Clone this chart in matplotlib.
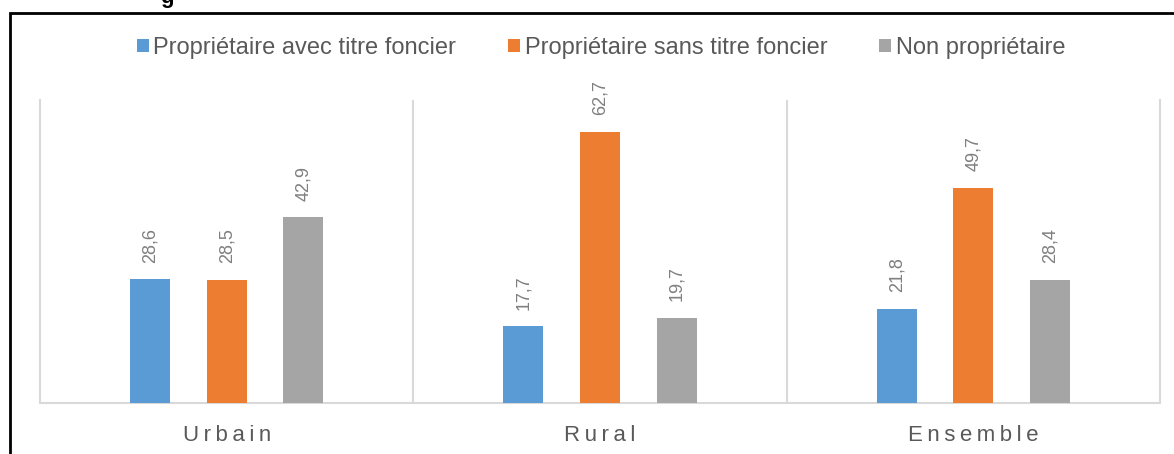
import matplotlib
matplotlib.use("Agg")
import matplotlib.pyplot as plt
import numpy as np
from matplotlib.patches import Rectangle

plt.rcParams['font.family'] = ['Liberation Sans', 'DejaVu Sans']

# data
categories = ["Urbain", "Rural", "Ensemble"]
series_names = ["Propriétaire avec titre foncier",
                "Propriétaire sans titre foncier",
                "Non propriétaire"]
avec_titre = [28.6, 17.7, 21.8]
sans_titre = [28.5, 62.7, 49.7]
non_proprio = [42.9, 19.7, 28.4]

colors = ["#5B9BD5", "#ED7D31", "#A5A5A5"]
grid_col = "#D9D9D9"

fig = plt.figure(figsize=(11.74, 4.54), dpi=100)
ax = fig.add_axes([40 / 1174, 1 - 403 / 454, 1120 / 1174, 303 / 454])

x = np.arange(len(categories))
offset = 0.205
width = 0.107
series = [avec_titre, sans_titre, non_proprio]
for k, (vals, name, col) in enumerate(zip(series, series_names, colors)):
    pos = x + (k - 1) * offset
    ax.bar(pos, vals, width=width, color=col, label=name, zorder=3)
    for px, v in zip(pos, vals):
        ax.annotate(f"{v:.1f}".replace(".", ","), (px, v),
                    xytext=(0, 12), textcoords="offset points",
                    rotation=90, ha="center", va="bottom",
                    fontsize=13, color="#7F7F7F")

ax.set_xlim(-0.5, 2.5)
ax.set_ylim(0, 70)
for xs in [0.5, 1.5]:
    ax.axvline(xs, color=grid_col, lw=1.5, zorder=1)
for side in ["left", "right", "bottom"]:
    ax.spines[side].set_color(grid_col)
    ax.spines[side].set_linewidth(1.5)
ax.spines["top"].set_visible(False)
ax.set_xticks([])
ax.set_yticks([])

# spaced category labels
for i, cat in enumerate(categories):
    ax.text(i, -38 / 303, "\u2009".join(cat), transform=ax.get_xaxis_transform(),
            ha="center", va="baseline", fontsize=16, color="#595959")

fig.legend(loc="center", bbox_to_anchor=(601 / 1174, 1 - 48 / 454), ncol=3,
           frameon=False, fontsize=17, handlelength=0.5, handleheight=0.5,
           handletextpad=0.2, columnspacing=2.2, labelcolor="#595959")

# outer frame of the document figure
fig.patches.append(Rectangle((10 / 1174, -0.05), 1.2, 1 - 13 / 454 + 0.05,
                             transform=fig.transFigure, fill=False,
                             edgecolor="black", lw=2))
# cut-off caption above the frame
fig.text(160 / 1174, 1 + 3 / 454, "g", fontsize=16, fontweight="bold",
         ha="left", va="center", color="black")

fig.savefig("out.png", dpi=100)
